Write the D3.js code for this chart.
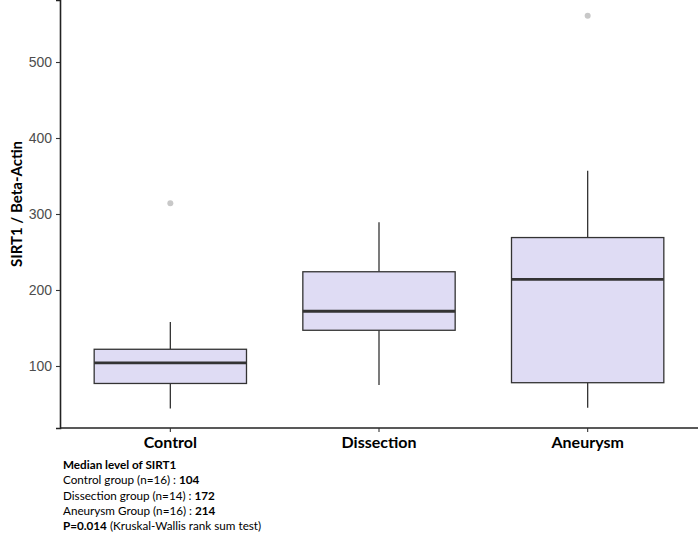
<!DOCTYPE html>
<html>
<head>
<meta charset="utf-8">
<script src="https://cdn.jsdelivr.net/npm/d3@7"></script>
<style>
  body { margin: 0; background: #fff; }
  svg { display: block; }
</style>
</head>
<body>
<div id="chart"></div>
<script>
// box statistics
const groups = ["Control", "Dissection", "Aneurysm"];
const whiskerLow = [44, 75, 45];
const q1 = [77, 147, 78];
const medians = [104, 172, 214];
const q3 = [122, 224, 269];
const whiskerHigh = [158, 289, 357];
const outliers = [[314], [], [561]];
const yTicks = [100, 200, 300, 400, 500];
const notes = [
  { pre: "", bold: "Median level of SIRT1", post: "" },
  { pre: "Control group (n=16) : ", bold: "104", post: "" },
  { pre: "Dissection group (n=14) : ", bold: "172", post: "" },
  { pre: "Aneurysm Group (n=16) : ", bold: "214", post: "" },
  { pre: "", bold: "P=0.014", post: " (Kruskal-Wallis rank sum test)" }
];

const width = 700, height = 534;
const margin = { top: 0, right: 2, bottom: 106, left: 60 };
const font = "Lato, 'Open Sans', sans-serif";

const svg = d3.select("#chart").append("svg")
  .attr("width", width)
  .attr("height", height);

const x = d3.scaleBand()
  .domain(groups)
  .range([66, 692])
  .paddingInner(0.27)
  .paddingOuter(0.135);

const y = d3.scaleLinear()
  .domain([18.4, 581.6])
  .range([height - margin.bottom, margin.top]);

const boxes = groups.map((g, i) => ({
  g, lo: whiskerLow[i], q1: q1[i], med: medians[i], q3: q3[i], hi: whiskerHigh[i], out: outliers[i]
}));

const g = svg.append("g");
const stroke = "#333333";

// whiskers
g.selectAll(".whisker")
  .data(boxes)
  .join("g")
  .attr("class", "whisker")
  .each(function(d) {
    const cx = x(d.g) + x.bandwidth() / 2;
    const sel = d3.select(this);
    sel.append("line")
      .attr("x1", cx).attr("x2", cx)
      .attr("y1", y(d.hi)).attr("y2", y(d.q3))
      .attr("stroke", stroke).attr("stroke-width", 1.3);
    sel.append("line")
      .attr("x1", cx).attr("x2", cx)
      .attr("y1", y(d.q1)).attr("y2", y(d.lo))
      .attr("stroke", stroke).attr("stroke-width", 1.3);
  });

// boxes
g.selectAll(".box")
  .data(boxes)
  .join("rect")
  .attr("class", "box")
  .attr("x", d => x(d.g))
  .attr("width", x.bandwidth())
  .attr("y", d => y(d.q3))
  .attr("height", d => y(d.q1) - y(d.q3))
  .attr("fill", "#dfdcf4")
  .attr("stroke", stroke)
  .attr("stroke-width", 1.3);

// medians
g.selectAll(".median")
  .data(boxes)
  .join("line")
  .attr("class", "median")
  .attr("x1", d => x(d.g))
  .attr("x2", d => x(d.g) + x.bandwidth())
  .attr("y1", d => y(d.med))
  .attr("y2", d => y(d.med))
  .attr("stroke", stroke)
  .attr("stroke-width", 2.8);

// outliers
g.selectAll(".outlier")
  .data(boxes.flatMap(d => d.out.map(v => ({ g: d.g, v }))))
  .join("circle")
  .attr("class", "outlier")
  .attr("cx", d => x(d.g) + x.bandwidth() / 2)
  .attr("cy", d => y(d.v))
  .attr("r", 3)
  .attr("fill", "#c8c8c8");

// y axis
const yAxis = svg.append("g")
  .attr("transform", `translate(${margin.left},0)`)
  .call(d3.axisLeft(y).tickValues(yTicks).tickSize(4).tickPadding(4));
yAxis.select(".domain").attr("stroke", "#222").attr("stroke-width", 1.6);
yAxis.selectAll(".tick line").attr("stroke", "#333").attr("stroke-width", 1.1);
yAxis.selectAll(".tick text")
  .attr("fill", "#4d4d4d")
  .style("font-family", "Arial, 'Liberation Sans', sans-serif")
  .style("font-size", "14px");

// x axis
const xAxis = svg.append("g")
  .attr("transform", `translate(0,${height - margin.bottom})`)
  .call(d3.axisBottom(x).tickSize(4).tickPadding(5).tickSizeOuter(0));
xAxis.select(".domain")
  .attr("d", `M${margin.left},0H${width - margin.right}`)
  .attr("stroke", "#222").attr("stroke-width", 1.6);
xAxis.selectAll(".tick line").attr("stroke", "#333").attr("stroke-width", 1.1);
xAxis.selectAll(".tick text")
  .attr("fill", "#000")
  .style("font-family", font)
  .style("font-weight", "bold")
  .style("font-size", "16px");

// y title
svg.append("text")
  .attr("transform", `translate(22,${y(300) - 10}) rotate(-90)`)
  .attr("text-anchor", "middle")
  .style("font-family", font)
  .style("font-weight", "bold")
  .style("font-size", "15px")
  .attr("fill", "#000")
  .text("SIRT1 / Beta-Actin");

// notes under the chart
const noteText = svg.append("g")
  .attr("transform", "translate(63,469)");
notes.forEach((n, i) => {
  const t = noteText.append("text")
    .attr("y", i * 15.3)
    .style("font-family", font)
    .style("font-size", "11.7px")
    .attr("fill", "#000");
  if (n.pre) t.append("tspan").text(n.pre);
  t.append("tspan").style("font-weight", "bold").text(n.bold);
  if (n.post) t.append("tspan").text(n.post);
});
</script>
</body>
</html>
